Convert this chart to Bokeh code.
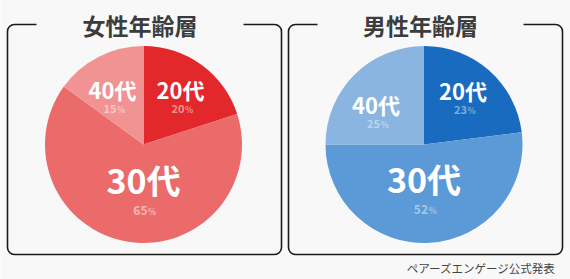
import numpy as np
from bokeh.plotting import figure
from bokeh.models import Range1d, BoxAnnotation, ColumnDataSource
from bokeh.core.properties import value
from bokeh.embed import file_html
from bokeh.resources import INLINE

# ---- data ----
categories = ["20代", "30代", "40代"]
female_pct = [20, 65, 15]
male_pct = [23, 52, 25]
female_colors = ["#e2282b", "#eb6b6b", "#f29393"]
male_colors = ["#186bbf", "#5b9ad6", "#8bb5e1"]
titles = ["女性年齢層", "男性年齢層"]
source_note = "ペアーズエンゲージ公式発表"

W, H = 570, 279
BG = "#f8f8f8"
FONT = value("Noto Sans CJK JP")

p = figure(width=W, height=H, output_backend="svg", toolbar_location=None,
           x_range=Range1d(0, W), y_range=Range1d(0, H), min_border=0)
p.axis.visible = False
p.grid.visible = False
p.outline_line_color = None
p.background_fill_color = BG
p.border_fill_color = BG


def Y(y):
    return H - y


panels = [
    dict(vals=female_pct, colors=female_colors, title=titles[0], cx=143, cy=144,
         box=(7, 281), gap=(36, 243), pct_alpha=0.5,
         label_off=[(37, -56), (0, 35), (-31, -56)],
         label_size=["22px", "34px", "22px"]),
    dict(vals=male_pct, colors=male_colors, title=titles[1], cx=423.5, cy=144,
         box=(288, 562), gap=(317, 523), pct_alpha=0.45,
         label_off=[(39, -55), (0, 34), (-48, -41)],
         label_size=["22px", "34px", "22px"]),
]

R = 98.5
for pn in panels:
    vals = np.array(pn["vals"], dtype=float)
    frac = vals / vals.sum()
    cum = np.concatenate([[0], np.cumsum(frac)])
    start = np.pi / 2 - cum[:-1] * 2 * np.pi
    end = np.pi / 2 - cum[1:] * 2 * np.pi
    src = ColumnDataSource(dict(x=[pn["cx"]] * len(vals), y=[Y(pn["cy"])] * len(vals),
                                start=start, end=end, color=pn["colors"]))
    p.wedge(x="x", y="y", radius=R, radius_units="screen", start_angle="start",
            end_angle="end", direction="clock", fill_color="color",
            line_color=None, source=src)

    # box with rounded corners
    l, r = pn["box"]
    box = BoxAnnotation(left=l, right=r, top=Y(24), bottom=Y(254),
                        fill_alpha=0, line_color="#1a1a1a", line_alpha=1.0,
                        line_width=1.6, border_radius=7, level="underlay")
    p.add_layout(box)
    g0, g1 = pn["gap"]
    p.quad(left=[g0], right=[g1], top=[Y(18)], bottom=[Y(30)],
           fill_color=BG, line_color=None)
    p.text(x=[(g0 + g1) / 2], y=[Y(24)], text=[pn["title"]], text_align="center",
           text_baseline="middle", text_font=FONT, text_font_style="bold",
           text_font_size="23px", text_color="#3c3c3c")

    # labels
    for i, cat in enumerate(categories):
        dx, dy = pn["label_off"][i]
        lx, ly = pn["cx"] + dx, pn["cy"] + dy
        big = pn["label_size"][i] == "34px"
        p.text(x=[lx], y=[Y(ly)], text=[cat], text_align="center",
               text_baseline="middle", text_font=FONT, text_font_style="bold",
               text_font_size=pn["label_size"][i], text_color="white")
        py = ly + (31 if big else 20)
        num = str(pn["vals"][i])
        fs = "12px" if big else "11px"
        p.text(x=[lx + 4], y=[Y(py)], text=[num], text_align="right",
               text_baseline="middle", text_font=FONT, text_font_style="bold",
               text_font_size=fs, text_color="white", text_alpha=pn["pct_alpha"])
        p.text(x=[lx + 4.5], y=[Y(py + 0.5)], text=["%"], text_align="left",
               text_baseline="middle", text_font=FONT, text_font_style="bold",
               text_font_size="8.5px", text_color="white", text_alpha=pn["pct_alpha"])

p.text(x=[555], y=[Y(267)], text=[source_note], text_align="right",
       text_baseline="middle", text_font=FONT, text_font_size="11.5px",
       text_color="#444444")

open("out.html", "w").write(file_html(p, INLINE))
